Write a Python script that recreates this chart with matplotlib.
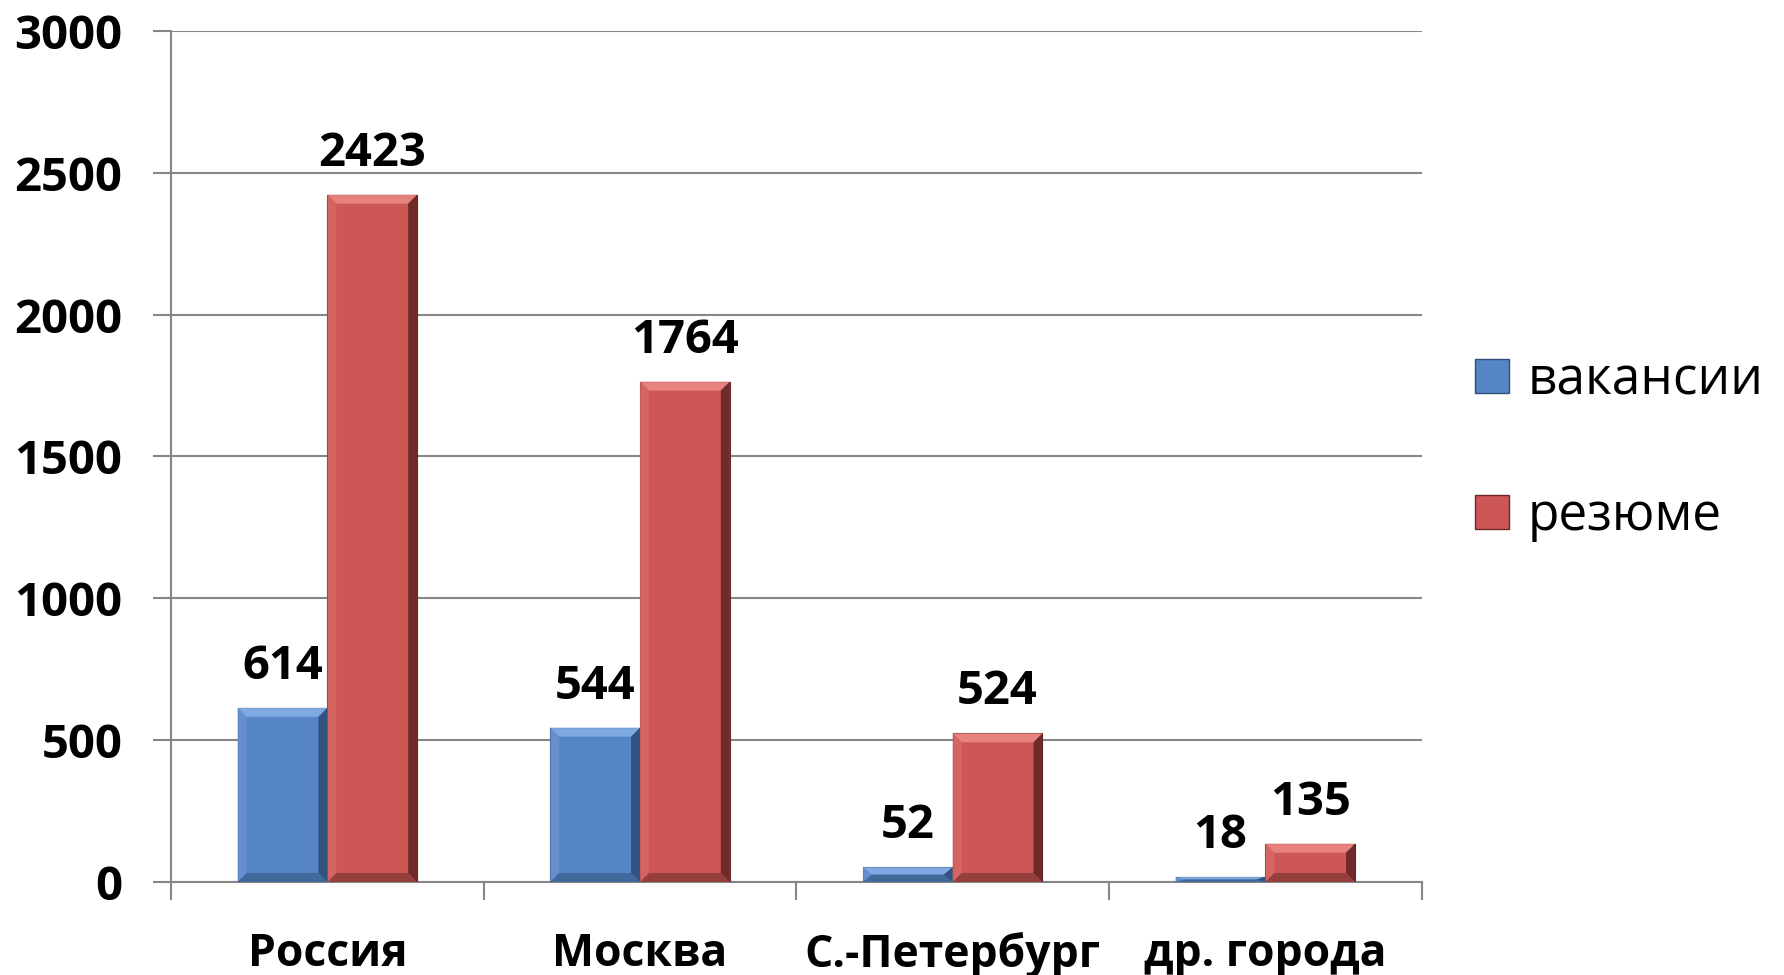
import matplotlib
matplotlib.use("Agg")
import matplotlib.pyplot as plt
from matplotlib.patches import Patch, Polygon
import numpy as np

categories = ["Россия", "Москва", "С.-Петербург", "др. города"]
vacancies = [614, 544, 52, 18]
resumes = [2423, 1764, 524, 135]
series_names = ["вакансии", "резюме"]
y_ticks = [0, 500, 1000, 1500, 2000, 2500, 3000]

plt.rcParams['font.family'] = ['Open Sans', 'DejaVu Sans']

blue = "#5585C5"
red = "#CD5755"
grid_col = "#868686"
# bevel shades: top, left, bottom, right
blue_bevel = ["#86B0E8", "#6893CF", "#3E6595", "#2C4B74"]
red_bevel = ["#EC8A87", "#D86764", "#8E3B39", "#5E2422"]

fig = plt.figure(figsize=(17.84, 9.75), dpi=100)
ax = fig.add_axes([0.0959, 0.0954, 0.701, 0.8728])

x = np.arange(len(categories))
w = 0.287
ax.set_xlim(-0.5, len(categories) - 0.5)
ax.set_ylim(0, 3000)

b1 = ax.bar(x - w / 2, vacancies, w, color=blue, edgecolor="#2f4f78", linewidth=0.8, zorder=3)
b2 = ax.bar(x + w / 2, resumes, w, color=red, edgecolor="#6a2826", linewidth=0.8, zorder=3)


def bevel(rect, shades, px=9):
    # bevel width in data units from pixel size
    ax_w = ax.get_position().width * fig.get_figwidth() * fig.dpi
    ax_h = ax.get_position().height * fig.get_figheight() * fig.dpi
    dx = px * (ax.get_xlim()[1] - ax.get_xlim()[0]) / ax_w
    dy = px * (ax.get_ylim()[1] - ax.get_ylim()[0]) / ax_h
    x0, y0 = rect.get_x(), rect.get_y()
    x1, y1 = x0 + rect.get_width(), y0 + rect.get_height()
    dy = min(dy, rect.get_height() / 2)
    dx = min(dx, rect.get_width() / 2)
    polys = [
        [(x0, y1), (x1, y1), (x1 - dx, y1 - dy), (x0 + dx, y1 - dy)],
        [(x0, y0), (x0, y1), (x0 + dx, y1 - dy), (x0 + dx, y0 + dy)],
        [(x0, y0), (x1, y0), (x1 - dx, y0 + dy), (x0 + dx, y0 + dy)],
        [(x1, y0), (x1, y1), (x1 - dx, y1 - dy), (x1 - dx, y0 + dy)],
    ]
    for p, c in zip(polys, shades):
        ax.add_patch(Polygon(p, closed=True, facecolor=c, edgecolor="none", alpha=0.85, zorder=3.5))


for bars, vals, shades in [(b1, vacancies, blue_bevel), (b2, resumes, red_bevel)]:
    for rect, v in zip(bars, vals):
        bevel(rect, shades)
        ax.annotate(str(v), (rect.get_x() + rect.get_width() / 2, rect.get_height()),
                    xytext=(0, 13), textcoords="offset points", ha="center", va="bottom",
                    fontsize=34, fontweight="bold", zorder=4)

ax.set_yticks(y_ticks)
ax.set_yticklabels([str(t) for t in y_ticks], fontsize=34, fontweight="bold")
ax.yaxis.grid(True, color=grid_col, linewidth=1.5, zorder=0)
ax.tick_params(axis="y", length=13, width=1.5, color=grid_col, pad=22)

ax.set_xticks(x)
ax.set_xticklabels(categories, fontsize=32, fontweight="bold")
ax.set_xticks(np.arange(len(categories) + 1) - 0.5, minor=True)
ax.tick_params(axis="x", which="major", length=0, pad=36)
ax.tick_params(axis="x", which="minor", length=13, width=1.5, color=grid_col)

for s in ["top", "right"]:
    ax.spines[s].set_visible(False)
for s in ["left", "bottom"]:
    ax.spines[s].set_color(grid_col)
    ax.spines[s].set_linewidth(1.5)

handles = [Patch(facecolor=blue, edgecolor="#2f4f78"), Patch(facecolor=red, edgecolor="#6a2826")]
fig.legend(handles, series_names, loc="center left", bbox_to_anchor=(0.827, 0.54),
           frameon=False, fontsize=37, handlelength=0.65, handleheight=0.65,
           handletextpad=0.37, labelspacing=1.65, borderpad=0, borderaxespad=0)

fig.savefig("out.png", dpi=100)
